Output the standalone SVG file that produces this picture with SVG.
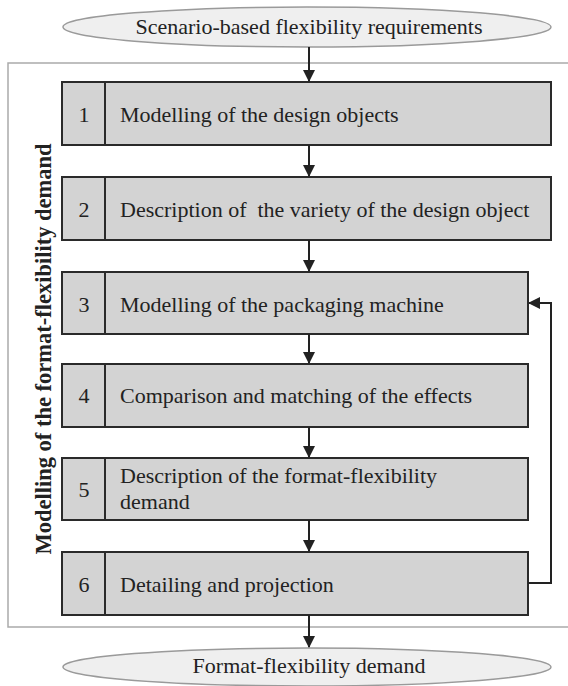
<svg xmlns="http://www.w3.org/2000/svg" width="568" height="686" viewBox="0 0 568 686">
<defs>
<marker id="ah" markerWidth="12" markerHeight="12" refX="11" refY="6" orient="auto" markerUnits="userSpaceOnUse">
<path d="M0,0 L12,6 L0,12 Z" fill="#222"/>
</marker>
<style>
.box{fill:#d3d3d3;stroke:#2a2a2a;stroke-width:2}
.div{stroke:#2a2a2a;stroke-width:2}
.ell{fill:#efefef;stroke:#9a9a9a;stroke-width:1.5}
.t{font-family:"Liberation Serif","Times New Roman",serif;font-size:22px;fill:#222}
.n{font-family:"Liberation Serif","Times New Roman",serif;font-size:22px;fill:#222;text-anchor:middle}
.c{stroke:#222;stroke-width:2;fill:none}
</style>
</defs>
<rect width="568" height="686" fill="#fff"/>
<g id="container">
<rect x="8" y="63" width="570" height="564" fill="none" stroke="#aaaaaa" stroke-width="1.5"/>
<text transform="translate(51,349) rotate(-90)" text-anchor="middle" font-family="Liberation Serif,serif" font-size="22.5" font-weight="bold" fill="#222">Modelling of the format-flexibility demand</text>
</g>
<g id="start">
<ellipse class="ell" cx="307" cy="27" rx="244" ry="20"/>
<text class="t" x="309" y="34" text-anchor="middle">Scenario-based flexibility requirements</text>
</g>
<g id="step1">
<rect class="box" x="62" y="82" width="489" height="63"/>
<line class="div" x1="105" y1="82" x2="105" y2="145"/>
<text class="n" x="84" y="122">1</text>
<text class="t" x="120" y="122">Modelling of the design objects</text>
</g>
<g id="step2">
<rect class="box" x="62" y="177" width="489" height="63"/>
<line class="div" x1="105" y1="177" x2="105" y2="240"/>
<text class="n" x="84" y="217">2</text>
<text class="t" x="120" y="217" xml:space="preserve">Description of  the variety of the design object</text>
</g>
<g id="step3">
<rect class="box" x="62" y="272" width="466" height="62"/>
<line class="div" x1="105" y1="272" x2="105" y2="334"/>
<text class="n" x="84" y="312">3</text>
<text class="t" x="120" y="312">Modelling of the packaging machine</text>
</g>
<g id="step4">
<rect class="box" x="62" y="364" width="466" height="63"/>
<line class="div" x1="105" y1="364" x2="105" y2="427"/>
<text class="n" x="84" y="403">4</text>
<text class="t" x="120" y="403">Comparison and matching of the effects</text>
</g>
<g id="step5">
<rect class="box" x="62" y="458" width="466" height="62"/>
<line class="div" x1="105" y1="458" x2="105" y2="520"/>
<text class="n" x="84" y="497">5</text>
<text class="t" x="120" y="483">Description of the format-flexibility</text>
<text class="t" x="120" y="509">demand</text>
</g>
<g id="step6">
<rect class="box" x="62" y="552" width="466" height="63"/>
<line class="div" x1="105" y1="552" x2="105" y2="615"/>
<text class="n" x="84" y="592">6</text>
<text class="t" x="120" y="592">Detailing and projection</text>
</g>
<g id="end">
<ellipse class="ell" cx="307" cy="667" rx="244" ry="19"/>
<text class="t" x="309" y="673" text-anchor="middle">Format-flexibility demand</text>
</g>
<g id="connectors">
<line class="c" x1="309" y1="47" x2="309" y2="81" marker-end="url(#ah)"/>
<line class="c" x1="309" y1="145" x2="309" y2="176" marker-end="url(#ah)"/>
<line class="c" x1="309" y1="240" x2="309" y2="271" marker-end="url(#ah)"/>
<line class="c" x1="309" y1="334" x2="309" y2="363" marker-end="url(#ah)"/>
<line class="c" x1="309" y1="427" x2="309" y2="457" marker-end="url(#ah)"/>
<line class="c" x1="309" y1="520" x2="309" y2="551" marker-end="url(#ah)"/>
<line class="c" x1="309" y1="615" x2="309" y2="647" marker-end="url(#ah)"/>
<path class="c" d="M528,583 H551 V303 H529" marker-end="url(#ah)"/>
</g>
</svg>
